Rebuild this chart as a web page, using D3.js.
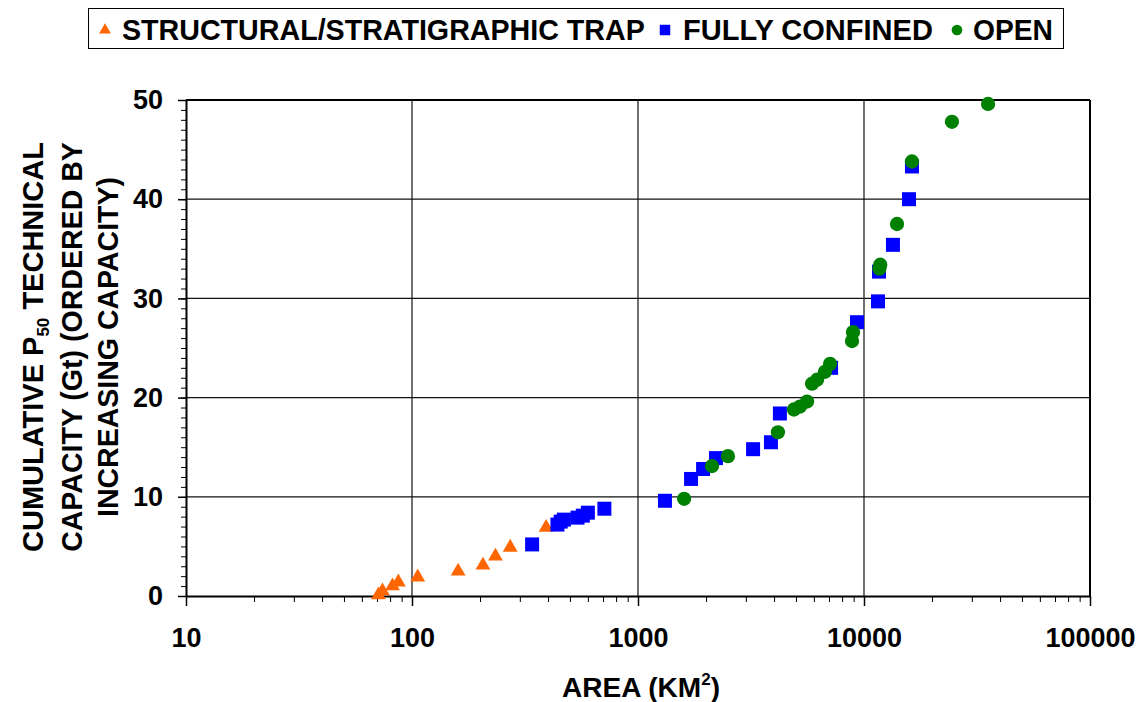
<!DOCTYPE html>
<html><head><meta charset="utf-8">
<script src="https://cdn.jsdelivr.net/npm/d3@7"></script>
<style>
body{margin:0;background:#fff}
text{font-family:"Liberation Sans",Arial,Helvetica,sans-serif;font-weight:bold;fill:#000}
</style></head>
<body><svg id="c" width="1145" height="702"></svg>
<script>
// ---- data ----
const seriesNames = ["STRUCTURAL/STRATIGRAPHIC TRAP", "FULLY CONFINED", "OPEN"];
const trapArea = [71, 74, 82, 87, 106, 160, 206, 234, 272, 392];
const trapCap  = [0.1, 0.5, 1.0, 1.4, 1.9, 2.5, 3.1, 4.0, 4.9, 6.9];
const confinedArea = [340, 440, 455, 470, 540, 570, 600, 710, 1316, 1717, 1941, 2213, 3230, 3875, 4245, 7150, 9310, 11530, 11650, 13430, 15820, 16300];
const confinedCap  = [5.2, 7.2, 7.5, 7.7, 7.9, 8.1, 8.4, 8.8, 9.6, 11.8, 12.8, 13.9, 14.8, 15.5, 18.4, 23.0, 27.6, 29.7, 32.7, 35.4, 40.0, 43.3];
const openArea = [1600, 2125, 2500, 4160, 4900, 5210, 5600, 5890, 6200, 6720, 7080, 8850, 8940, 11700, 11800, 14000, 16300, 24500, 35400];
const openCap  = [9.8, 13.1, 14.1, 16.5, 18.8, 19.1, 19.6, 21.4, 21.8, 22.6, 23.4, 25.7, 26.6, 33.0, 33.4, 37.5, 43.8, 47.8, 49.6];
const xTicks = [10, 100, 1000, 10000, 100000];
const yTicks = [0, 10, 20, 30, 40, 50];
const colors = ["#FF6600", "#0000FF", "#008000"];

// ---- layout ----
const svg = d3.select("#c");
const L = 186, R = 1090, T = 100, B = 596;
const x = d3.scaleLog().domain([10, 100000]).range([L, R]);
const y = d3.scaleLinear().domain([0, 50]).range([B, T]);

// squeeze text horizontally to a target length (reference font is condensed)
function fit(sel, target) {
  const len = sel.node().getComputedTextLength();
  const s = target / len;
  const ax = +sel.attr("x") || 0, ay = +sel.attr("y") || 0;
  sel.attr("transform", `translate(${ax},${ay}) scale(${s},1) translate(${-ax},${-ay})`);
}

// gridlines
const g = svg.append("g");
g.selectAll(".hg").data(yTicks.filter(d => d > 0)).join("line")
  .attr("x1", L).attr("x2", R).attr("y1", d => y(d)).attr("y2", d => y(d))
  .attr("stroke", "#111").attr("stroke-width", 1.2);
g.selectAll(".vg").data(xTicks.filter(d => d > 10)).join("line")
  .attr("x1", d => x(d)).attr("x2", d => x(d)).attr("y1", T).attr("y2", B)
  .attr("stroke", "#111").attr("stroke-width", 1.2);

// minor ticks
const minorX = [];
for (let e = 1; e < 5; e++) for (let m = 2; m <= 9; m++) minorX.push(m * Math.pow(10, e));
const minorY = d3.range(0, 51, 1);

const xMinor = svg.append("g").attr("transform", `translate(0,${B})`)
  .call(d3.axisBottom(x).tickValues(minorX).tickFormat("").tickSize(6).tickSizeOuter(0));
xMinor.select(".domain").remove();
xMinor.selectAll("line").attr("stroke", "#000").attr("stroke-width", 1);

const xAxis = svg.append("g").attr("transform", `translate(0,${B})`)
  .call(d3.axisBottom(x).tickValues(xTicks).tickFormat(d3.format("d")).tickSize(10).tickSizeOuter(0).tickPadding(22));
xAxis.select(".domain").attr("stroke", "#000").attr("stroke-width", 2);
xAxis.selectAll("line").attr("stroke", "#000").attr("stroke-width", 1.5);
xAxis.selectAll("text").attr("font-size", 27).attr("font-family", "Liberation Sans, Arial, sans-serif").attr("font-weight", "bold").attr("fill", "#000");

const yMinor = svg.append("g").attr("transform", `translate(${L},0)`)
  .call(d3.axisLeft(y).tickValues(minorY).tickFormat("").tickSize(5).tickSizeOuter(0));
yMinor.select(".domain").remove();
yMinor.selectAll("line").attr("stroke", "#000").attr("stroke-width", 1);

const yAxis = svg.append("g").attr("transform", `translate(${L},0)`)
  .call(d3.axisLeft(y).tickValues(yTicks).tickSize(8).tickSizeOuter(0).tickPadding(15));
yAxis.select(".domain").attr("stroke", "#000").attr("stroke-width", 2);
yAxis.selectAll("line").attr("stroke", "#000").attr("stroke-width", 1.5);
yAxis.selectAll("text").attr("font-size", 27).attr("font-family", "Liberation Sans, Arial, sans-serif").attr("font-weight", "bold").attr("fill", "#000");

// top/right border
svg.append("line").attr("x1", L).attr("x2", R).attr("y1", T).attr("y2", T).attr("stroke", "#000").attr("stroke-width", 2);
svg.append("line").attr("x1", R).attr("x2", R).attr("y1", T).attr("y2", B).attr("stroke", "#000").attr("stroke-width", 2);

// marks
const tri = d3.symbol(d3.symbolTriangle, 95)();
const sq = d3.symbol(d3.symbolSquare, 196)();
const circ = d3.symbol(d3.symbolCircle, 160)();

svg.append("g").selectAll("path").data(trapArea.map((a, i) => [a, trapCap[i]])).join("path")
  .attr("d", tri).attr("fill", colors[0])
  .attr("transform", d => `translate(${x(d[0])},${y(d[1])})`);
svg.append("g").selectAll("path").data(confinedArea.map((a, i) => [a, confinedCap[i]])).join("path")
  .attr("d", sq).attr("fill", colors[1])
  .attr("transform", d => `translate(${x(d[0])},${y(d[1])})`);
svg.append("g").selectAll("path").data(openArea.map((a, i) => [a, openCap[i]])).join("path")
  .attr("d", circ).attr("fill", colors[2])
  .attr("transform", d => `translate(${x(d[0])},${y(d[1])})`);

// axis titles
const xt = svg.append("text").attr("x", 641).attr("y", 697).attr("text-anchor", "middle").attr("font-size", 28);
xt.append("tspan").text("AREA (KM");
xt.append("tspan").attr("font-size", 17).attr("dy", -12).text("2");
xt.append("tspan").attr("dy", 12).text(")");
fit(xt, 158);

const yt = svg.append("g").attr("transform", "translate(0,347) rotate(-90)");
const l1 = yt.append("text").attr("x", 0).attr("y", 43).attr("text-anchor", "middle").attr("font-size", 29);
l1.append("tspan").text("CUMULATIVE P");
l1.append("tspan").attr("font-size", 17).attr("dy", 6).text("50");
l1.append("tspan").attr("dy", -6).text(" TECHNICAL");
fit(l1, 410);
const l2 = yt.append("text").attr("x", 0).attr("y", 82).attr("text-anchor", "middle").attr("font-size", 29).text("CAPACITY (Gt) (ORDERED BY");
fit(l2, 410);
const l3 = yt.append("text").attr("x", 0).attr("y", 118).attr("text-anchor", "middle").attr("font-size", 29).text("INCREASING CAPACITY)");
fit(l3, 340);

// legend
const lg = svg.append("g");
lg.append("rect").attr("x", 88.5).attr("y", 8.5).attr("width", 975).attr("height", 40)
  .attr("fill", "#fff").attr("stroke", "#000").attr("stroke-width", 1);
const legItems = [
  {sym: d3.symbol(d3.symbolTriangle, 60)(), mx: 105, tx: 122, tl: 523},
  {sym: d3.symbol(d3.symbolSquare, 110)(), mx: 665, tx: 683, tl: 250},
  {sym: d3.symbol(d3.symbolCircle, 90)(), mx: 957, tx: 973, tl: 80}
];
legItems.forEach((it, i) => {
  lg.append("path").attr("d", it.sym).attr("fill", colors[i]).attr("transform", `translate(${it.mx},30)`);
  const t = lg.append("text").attr("x", it.tx).attr("y", 40).attr("font-size", 29).text(seriesNames[i]);
  fit(t, it.tl);
});
</script></body></html>
